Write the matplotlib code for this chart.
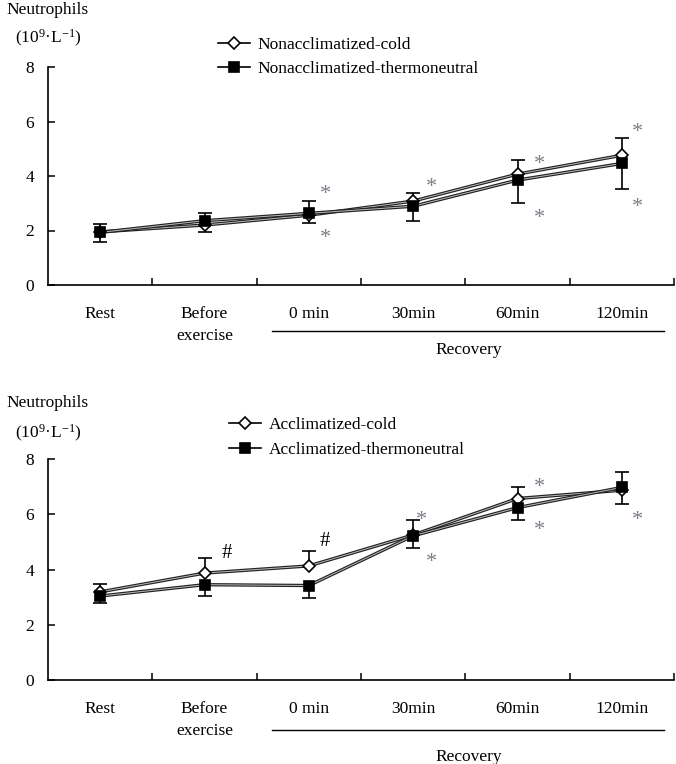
import numpy as np
import matplotlib
matplotlib.use('Agg')
import matplotlib.pyplot as plt
from matplotlib.lines import Line2D
from matplotlib.transforms import ScaledTranslation

plt.rcParams['font.family'] = ['Liberation Serif', 'DejaVu Serif']
plt.rcParams['mathtext.fontset'] = 'custom'
plt.rcParams['mathtext.rm'] = 'Liberation Serif'
plt.rcParams['mathtext.it'] = 'Liberation Serif:italic'

# categories on the x axis
cats = ['Rest', 'Before\nexercise', '0 min', '30min', '60min', '120min']

# top panel: nonacclimatized
top_cold = [1.95, 2.20, 2.56, 3.08, 4.07, 4.76]
top_cold_sd = [0.28, 0.27, 0.28, 0.28, 0.50, 0.65]
top_cold_dir = [1, -1, -1, 1, 1, 1]          # which side the error bar is drawn
top_thermo = [1.93, 2.36, 2.63, 2.89, 3.85, 4.46]
top_thermo_sd = [0.34, 0.27, 0.45, 0.53, 0.85, 0.92]
top_thermo_dir = [-1, 1, 1, -1, -1, -1]
top_star_x = [2, 2, 3, 4, 4, 5, 5]
top_star_y = [3.58, 1.95, 3.83, 4.66, 2.68, 5.84, 3.08]

# bottom panel: acclimatized
bot_cold = [3.19, 3.87, 4.13, 5.25, 6.57, 6.87]
bot_cold_sd = [0.28, 0.55, 0.55, 0.54, 0.40, 0.50]
bot_cold_dir = [1, 1, 1, 1, 1, -1]
bot_thermo = [3.04, 3.45, 3.42, 5.22, 6.24, 6.97]
bot_thermo_sd = [0.24, 0.40, 0.45, 0.43, 0.45, 0.55]
bot_thermo_dir = [-1, -1, -1, -1, -1, 1]
bot_star_x = [3, 3, 4, 4, 5, 5]
bot_star_y = [6.00, 4.49, 7.19, 5.66, 8.04, 6.00]
bot_hash_x = [1, 2]
bot_hash_y = [4.67, 5.13]

FS = 12.5
x = np.arange(len(cats))

fig = plt.figure(figsize=(6.76, 7.64), dpi=100)
ax1 = fig.add_axes([48/676, 1-285/764, 626/676, 218/764])
ax2 = fig.add_axes([48/676, 1-680/764, 626/676, 221/764])


def draw_series(ax, y, sd, d, marker, face, label):
    y = np.array(y); sd = np.array(sd); d = np.array(d)
    end = y + d*sd
    ms = 7 if marker == 's' else 5.8
    ax.vlines(x, y, end, color='black', lw=1.2, zorder=2)
    ax.plot(x, end, ls='none', marker='_', ms=10, mew=1.2, color='black', zorder=2)
    ax.plot(x, y, color='#222222', lw=2.4, zorder=3, solid_capstyle='butt')
    ax.plot(x, y, color='#bbbbbb', lw=0.7, zorder=3)
    ax.plot(x, y, ls='none', marker=marker, ms=ms, mfc=face, mec='black', mew=1.2, zorder=4)
    return Line2D([], [], color='black', lw=1.2, marker=marker, ms=ms, mfc=face,
                  mec='black', mew=1.2, label=label)


def mark(ax, xs, ys, sym, color, dx, fs, shift):
    for xi, yi, ddx in zip(xs, ys, dx):
        ax.annotate(sym, (xi + ddx, yi), xytext=(0, -shift*fs), textcoords='offset points',
                    ha='center', va='baseline', fontsize=fs, color=color)


def style(ax, line_off, rec_off, ylab_y, unit_y):
    ax.set_xlim(-0.5, 5.5)
    ax.set_ylim(0, 8)
    ax.spines['top'].set_visible(False)
    ax.spines['right'].set_visible(False)
    for s in ['left', 'bottom']:
        ax.spines[s].set_linewidth(1.2)
    ax.set_yticks([0, 2, 4, 6, 8])
    ax.tick_params(axis='y', direction='in', length=5, width=1.1, labelsize=FS, pad=10)
    ax.set_xticks(np.arange(0.5, 6, 1))
    ax.set_xticklabels([])
    ax.tick_params(axis='x', which='major', direction='in', length=5, width=1.1)
    ax.set_xticks(x, minor=True)
    ax.set_xticklabels(cats, minor=True, fontsize=FS, linespacing=1.55)
    ax.tick_params(axis='x', which='minor', length=0, pad=15)
    # recovery bracket line and label
    off = ScaledTranslation(0, -line_off/100, fig.dpi_scale_trans)
    ax.add_line(Line2D([1.647, 5.404], [0, 0], color='black', lw=1.0, clip_on=False,
                       transform=ax.transData + off))
    ax.annotate('Recovery', (3.53, 0), xytext=(0, -rec_off*0.72), textcoords='offset points',
                ha='center', va='center', fontsize=FS)
    ax.text(0.0, ylab_y, 'Neutrophils', transform=ax.transAxes, ha='center', va='center', fontsize=FS)
    ax.text(0.0, unit_y, '(10$^{9}$·L$^{-1}$)', transform=ax.transAxes, ha='center', va='center', fontsize=FS)


# top
h1 = draw_series(ax1, top_cold, top_cold_sd, top_cold_dir, 'D', 'white', 'Nonacclimatized-cold')
h2 = draw_series(ax1, top_thermo, top_thermo_sd, top_thermo_dir, 's', 'black', 'Nonacclimatized-thermoneutral')
mark(ax1, top_star_x, top_star_y, '*', '#7d7d88', [0.16, 0.16, 0.18, 0.21, 0.21, 0.15, 0.15], 16, 0.5)
style(ax1, 46, 65, 1 + 57/218, 1 + 29/218)
ax1.legend(handles=[h1, h2], loc='upper left', bbox_to_anchor=(0.2716, 1.14), frameon=False,
           fontsize=FS, borderpad=0, borderaxespad=0, handlelength=1.85, handletextpad=0.45,
           labelspacing=0.5)

# bottom
h3 = draw_series(ax2, bot_cold, bot_cold_sd, bot_cold_dir, 'D', 'white', 'Acclimatized-cold')
h4 = draw_series(ax2, bot_thermo, bot_thermo_sd, bot_thermo_dir, 's', 'black', 'Acclimatized-thermoneutral')
mark(ax2, bot_star_x, bot_star_y, '*', '#7d7d88', [0.08, 0.18, 0.21, 0.21, 0.15, 0.15], 16, 0.5)
mark(ax2, bot_hash_x, bot_hash_y, '#', 'black', [0.21, 0.15], 15, 0.35)
style(ax2, 50, 77, 1 + 56/221, 1 + 26/221)
ax2.legend(handles=[h3, h4], loc='upper left', bbox_to_anchor=(0.289, 1.19), frameon=False,
           fontsize=FS, borderpad=0, borderaxespad=0, handlelength=1.85, handletextpad=0.45,
           labelspacing=0.5)

fig.savefig('out.png', dpi=100)
